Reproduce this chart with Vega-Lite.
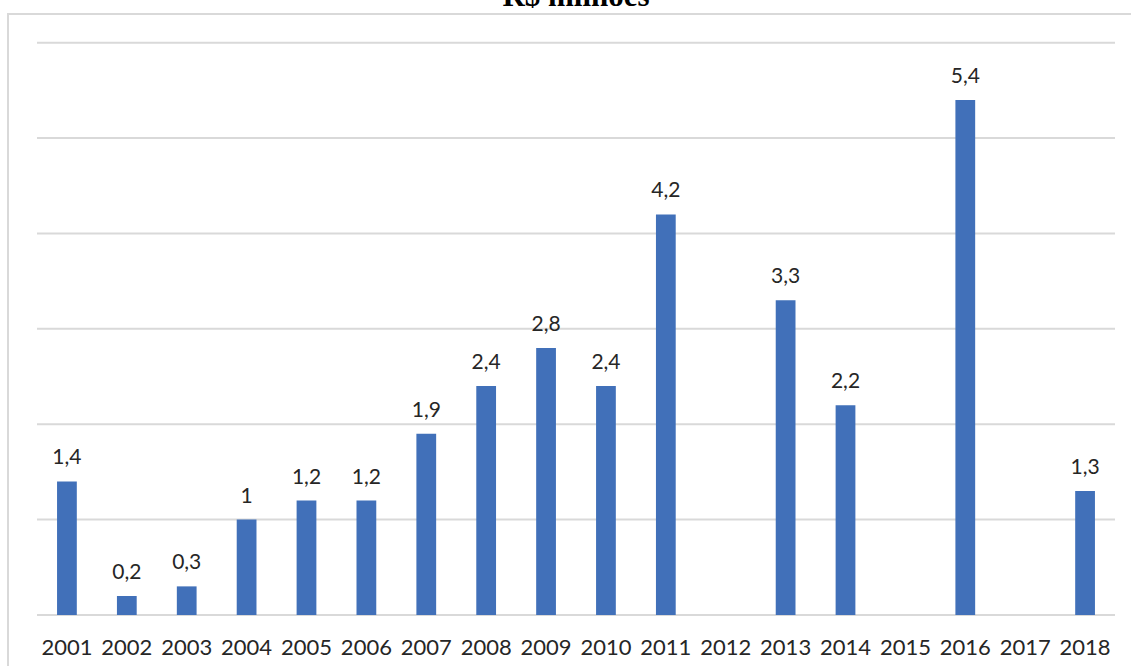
{
  "$schema": "https://vega.github.io/schema/vega-lite/v6.json",
  "width": 1136,
  "height": 680,
  "autosize": {"type": "none"},
  "padding": {"left": 8, "top": 14, "right": 0, "bottom": 0},
  "background": "white",
  "datasets": {
    "bars": [
      {"year": "2001", "value": 1.4, "label": "1,4"},
      {"year": "2002", "value": 0.2, "label": "0,2"},
      {"year": "2003", "value": 0.3, "label": "0,3"},
      {"year": "2004", "value": 1.0, "label": "1"},
      {"year": "2005", "value": 1.2, "label": "1,2"},
      {"year": "2006", "value": 1.2, "label": "1,2"},
      {"year": "2007", "value": 1.9, "label": "1,9"},
      {"year": "2008", "value": 2.4, "label": "2,4"},
      {"year": "2009", "value": 2.8, "label": "2,8"},
      {"year": "2010", "value": 2.4, "label": "2,4"},
      {"year": "2011", "value": 4.2, "label": "4,2"},
      {"year": "2012", "value": null, "label": null},
      {"year": "2013", "value": 3.3, "label": "3,3"},
      {"year": "2014", "value": 2.2, "label": "2,2"},
      {"year": "2015", "value": null, "label": null},
      {"year": "2016", "value": 5.4, "label": "5,4"},
      {"year": "2017", "value": null, "label": null},
      {"year": "2018", "value": 1.3, "label": "1,3"}
    ],
    "grid": [
      {"g": 0, "a": "2001", "b": "2018"},
      {"g": 1, "a": "2001", "b": "2018"},
      {"g": 2, "a": "2001", "b": "2018"},
      {"g": 3, "a": "2001", "b": "2018"},
      {"g": 4, "a": "2001", "b": "2018"},
      {"g": 5, "a": "2001", "b": "2018"},
      {"g": 6, "a": "2001", "b": "2018"}
    ],
    "titulo": [
      {"texto": "R$ milhões", "pos": "2010", "nivel": 6.385}
    ]
  },
  "layer": [
    {
      "data": {"name": "grid"},
      "mark": {"type": "rule", "color": "#d9d9d9", "strokeWidth": 2},
      "encoding": {
        "x": {"field": "a", "type": "nominal", "bandPosition": 0},
        "x2": {"field": "b", "bandPosition": 1},
        "y": {"field": "g", "type": "quantitative"}
      }
    },
    {
      "data": {"name": "bars"},
      "mark": {"type": "bar", "color": "#4170B9", "width": {"band": 0.33}},
      "encoding": {
        "x": {"field": "year", "type": "nominal"},
        "y": {"field": "value", "type": "quantitative"},
        "y2": {"datum": 0}
      }
    },
    {
      "data": {"name": "bars"},
      "mark": {"type": "text", "font": "Lato", "fontSize": 21, "color": "#262626", "baseline": "alphabetic", "dy": -17},
      "encoding": {
        "x": {"field": "year", "type": "nominal"},
        "y": {"field": "value", "type": "quantitative"},
        "text": {"field": "label", "type": "nominal"}
      }
    },
    {
      "data": {"name": "titulo"},
      "mark": {"type": "text", "font": "Liberation Serif", "fontWeight": "bold", "fontSize": 31, "color": "#000000", "baseline": "alphabetic", "align": "center"},
      "encoding": {
        "x": {"field": "pos", "type": "nominal", "bandPosition": 0},
        "y": {"field": "nivel", "type": "quantitative"},
        "text": {"field": "texto", "type": "nominal"}
      }
    }
  ],
  "encoding": {
    "x": {
      "field": "year",
      "type": "nominal",
      "sort": null,
      "scale": {
        "domain": ["2001", "2002", "2003", "2004", "2005", "2006", "2007", "2008", "2009", "2010", "2011", "2012", "2013", "2014", "2015", "2016", "2017", "2018"],
        "paddingInner": 0,
        "paddingOuter": 0.484
      },
      "axis": {
        "title": null,
        "labelAngle": 0,
        "domain": false,
        "ticks": false,
        "tickSize": 0,
        "offset": -79,
        "labelPadding": 39,
        "labelBaseline": "alphabetic",
        "labelFont": "Lato",
        "labelFontSize": 22,
        "labelColor": "#262626"
      }
    },
    "y": {
      "field": "value",
      "type": "quantitative",
      "scale": {"domain": [-0.8283, 6.3009], "nice": false, "zero": false},
      "axis": null
    }
  },
  "config": {
    "view": {"stroke": "#d9d9d9", "strokeWidth": 2}
  }
}
